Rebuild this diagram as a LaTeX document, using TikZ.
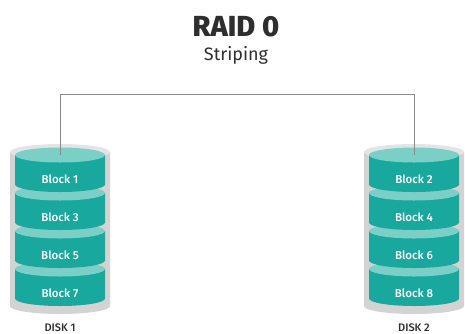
\documentclass[tikz,border=0pt]{standalone}
\usepackage{fontspec}
\setmainfont{Fira Sans}
\IfFontExistsTF{Fira Sans Medium}
  {\newfontfamily\mediumfont{Fira Sans Medium}}
  {\newfontfamily\mediumfont{Fira Sans}[FakeBold=1.2]}
\IfFontExistsTF{Fira Sans ExtraBold}
  {\newfontfamily\heavyfont{Fira Sans ExtraBold}}
  {\newfontfamily\heavyfont{Fira Sans Bold}}
\definecolor{tealbody}{HTML}{19A89D}
\definecolor{tealtop}{HTML}{7BCFC6}
\definecolor{shellbody}{HTML}{D3D3D3}
\definecolor{shelltop}{HTML}{E4E4E4}
\definecolor{wire}{HTML}{8A8A8A}
\definecolor{ink}{HTML}{2E2E2E}
\tikzset{
  blocklabel/.style={text=white, font=\mediumfont\fontsize{11.5}{13}\selectfont},
  disklabel/.style={text=ink, anchor=base, font=\mediumfont\fontsize{11}{12}\selectfont},
  wireline/.style={draw=wire, line width=0.8pt},
  % one teal stripe of a disk: body with rounded bottom, lighter top face
  pics/diskblock/.style={code={
    \fill[tealbody] (-45,0) -- (-45,-29.5)
      arc[start angle=180, end angle=360, x radius=45pt, y radius=7.5pt]
      -- (45,0) -- cycle;
    \fill[tealtop] (0,0) ellipse[x radius=45pt, y radius=7.5pt];
    \coordinate (-top) at (0,0);
    \node[blocklabel] (-label) at (0,-24) {#1};
  }},
  % grey casing behind the stripes
  pics/diskshell/.style={code={
    \fill[shellbody] (-50,0) -- (-50,-154)
      arc[start angle=180, end angle=360, x radius=50pt, y radius=8pt]
      -- (50,0) -- cycle;
    \fill[shelltop] (0,0) ellipse[x radius=50pt, y radius=8pt];
  }}
}
\begin{document}
\begin{tikzpicture}[x=1pt,y=1pt]
  \useasboundingbox (0,0) rectangle (465,-333);

  % titles
  \node[anchor=base, text=ink, font=\heavyfont\fontsize{29}{32}\selectfont] (title) at (236,-36) {RAID 0};
  \node[anchor=base, text=ink, font=\fontsize{18}{20}\selectfont] (subtitle) at (236,-60) {Striping};

  % disk 1
  \pic (shellA) at (60,-152) {diskshell};
  \pic (b7) at (60,-269) {diskblock={Block 7}};
  \pic (b5) at (60,-231) {diskblock={Block 5}};
  \pic (b3) at (60,-193) {diskblock={Block 3}};
  \pic (b1) at (60,-155) {diskblock={Block 1}};
  \node[disklabel] (disk1) at (60,-331) {DISK 1};

  % disk 2
  \pic (shellB) at (414,-152) {diskshell};
  \pic (b8) at (414,-269) {diskblock={Block 8}};
  \pic (b6) at (414,-231) {diskblock={Block 6}};
  \pic (b4) at (414,-193) {diskblock={Block 4}};
  \pic (b2) at (414,-155) {diskblock={Block 2}};
  \node[disklabel] (disk2) at (414,-331) {DISK 2};

  % striping bus
  \coordinate (bus) at (0,-94);
  \draw[wireline] (b1-top) -- (b1-top |- bus) -- (b2-top |- bus) -- (b2-top);
\end{tikzpicture}
\end{document}
